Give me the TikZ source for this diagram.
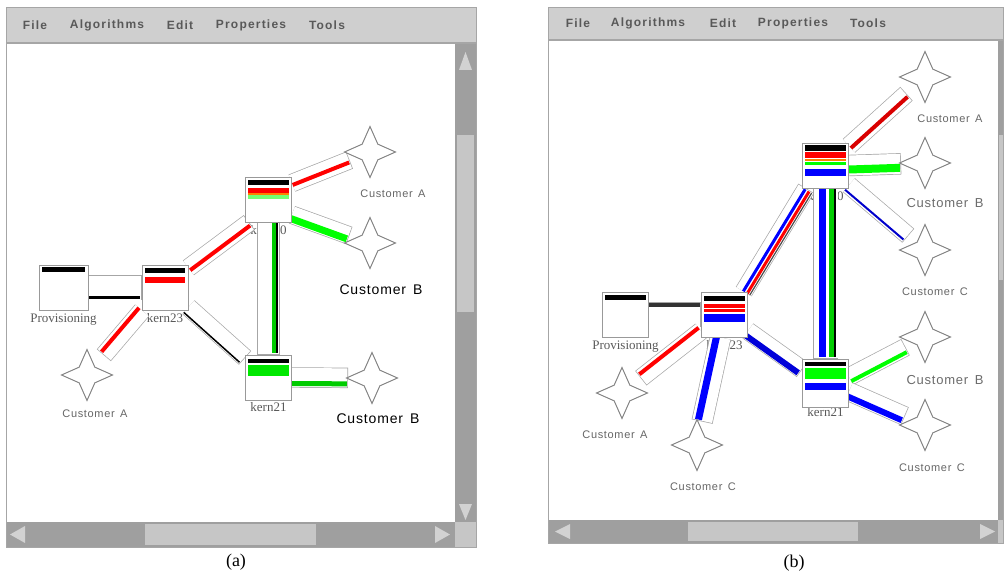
\documentclass[tikz,border=0pt]{standalone}
\usepackage{fontspec}
\setmainfont{Liberation Serif}
\setsansfont{Liberation Sans}
\newfontfamily\menufont[LetterSpace=10]{Liberation Sans}
\newfontfamily\custfont[LetterSpace=6]{Liberation Sans}
\usetikzlibrary{calc, positioning, shapes.geometric}

\pgfdeclarelayer{bg}
\pgfdeclarelayer{links}
\pgfsetlayers{bg,links,main}

% link box, coloured lane in a link, bar in a router
\newcommand{\band}[3]{\draw[line width=#3pt+1.4pt, gray!70] (#1) -- (#2);
  \draw[line width=#3pt, white, shorten >=0.7pt] (#1) -- (#2);}
\newcommand{\lane}[5]{\draw[line width=#4pt, #5, shorten >=1.2pt] ($(#1)!#3pt!90:(#2)$) -- ($(#2)!#3pt!-90:(#1)$);}
\newcommand{\rbar}[4]{\fill[#4] ([shift={(3,#2)}]#1.north west) rectangle ([shift={(-3,#2+#3)}]#1.north east);}

\begin{document}
\begin{tikzpicture}[x=1pt, y=-1pt,
  router/.style={draw=gray!80, fill=white, line width=0.9pt, minimum width=46pt, minimum height=45pt, inner sep=0pt},
  cust/.style={star, star points=4, star point ratio=2.3, minimum size=51pt, inner sep=0pt, draw=gray!95, fill=white, line width=1pt},
  rname/.style={font=\fontsize{13}{14}\selectfont, text=gray!70!black, inner sep=0pt},
  clabel/.style={font=\custfont\fontsize{11}{12}\selectfont, text=gray!80!black, inner sep=1pt},
  cmid/.style={font=\custfont\fontsize{13}{14}\selectfont, text=gray!85!black, inner sep=1pt},
  cbig/.style={font=\custfont\fontsize{14}{16}\selectfont, inner sep=1pt},
  menu/.style={font=\menufont\bfseries\fontsize{12}{14}\selectfont, text=black!65, inner sep=0pt},
  track/.style={fill=gray!75},
  thumb/.style={fill=gray!45},
  btn/.style={fill=gray!35}]
\useasboundingbox (0,0) rectangle (1005,578);

% nodes (a)
\node[router, minimum width=49pt] (pa) at (63.5,287.5) {};
\node[router] (k23a) at (165,287.5) {};
\node[router] (k20a) at (268.5,199.5) {};
\node[router] (k21a) at (268.5,377.5) {};
\node[cust] (sa1) at (370,152) {};
\node[cust] (sb1) at (370,243) {};
\node[cust] (sb2) at (372,378) {};
\node[cust] (sa2) at (87,375) {};

\rbar{pa}{2}{5}{black}
\rbar{k23a}{3}{5}{black}
\rbar{k23a}{12}{6}{red}
\rbar{k20a}{3}{5}{black}
\rbar{k20a}{11}{5}{red}
\rbar{k20a}{16}{2}{orange}
\rbar{k20a}{18}{4}{green!55}
\rbar{k21a}{4}{4}{black}
\rbar{k21a}{10}{11}{green!85!black!60!green}

% nodes (b)
\node[router] (pb) at (625.5,314.5) {};
\node[router] (k23b) at (724.5,314.5) {};
\node[router] (k20b) at (825.5,165.5) {};
\node[router, minimum height=48pt] (k21b) at (825.5,383) {};
\node[cust] (sa3) at (925,77) {};
\node[cust] (sb3) at (925,163) {};
\node[cust] (sc3) at (925,250) {};
\node[cust] (sb4) at (925,337) {};
\node[cust] (sc4) at (925,425) {};
\node[cust] (sa4) at (622,393) {};
\node[cust] (sc5) at (697,445) {};

\rbar{pb}{3}{5}{black}
\rbar{k23b}{4}{5}{black}
\rbar{k23b}{12}{4}{red}
\rbar{k23b}{17}{3}{red}
\rbar{k23b}{22}{8}{blue}
\rbar{k20b}{2}{6}{black}
\rbar{k20b}{9}{6}{red}
\rbar{k20b}{16}{2}{orange}
\rbar{k20b}{19}{3}{green}
\rbar{k20b}{26}{7}{blue}
\rbar{k21b}{3}{4}{black}
\rbar{k21b}{9}{11}{green}
\rbar{k21b}{24}{7}{blue}

% free ends of the links at the customers
\coordinate (ea1) at ($(sa1)!22pt!(k20a.35)$);
\coordinate (eb1) at ($(sb1)!22pt!(k20a.-33)$);
\coordinate (eb2) at ($(sb2)!24pt!(k21a.east)$);
\coordinate (ea2) at ($(sa2)!26pt!(k23a.225)$);
\coordinate (ea3) at ($(sa3)!25pt!(k20b.40)$);
\coordinate (eb3) at ($(sb3)!24pt!(k20b.east)$);
\coordinate (ec3) at ($(sc3)!22pt!(k20b.-40)$);
\coordinate (ea4) at ($(sa4)!24pt!(k23b.215)$);
\coordinate (ec5) at ($(sc5)!24pt!(k23b.-100)$);
\coordinate (eb4) at ($(sb4)!22pt!(k21b.15)$);
\coordinate (ec4) at ($(sc4)!22pt!(k21b.-20)$);

% labels
\node[clabel] (la1) at (393,194) {Customer\enspace A};
\node[cbig] (lb1) at (381,290) {Customer\enspace B};
\node[clabel] (la2) at (95,414) {Customer\enspace A};
\node[cbig] (lb2) at (378,419) {Customer\enspace B};
\node[clabel] (la3) at (950,119) {Customer\enspace A};
\node[cmid] (lb3) at (945,203) {Customer\enspace B};
\node[clabel] (lc3) at (935,292) {Customer\enspace C};
\node[cmid] (lb4) at (945,380) {Customer\enspace B};
\node[clabel] (lc4) at (932,468) {Customer\enspace C};
\node[clabel] (la4) at (615,435) {Customer\enspace A};
\node[clabel] (lc5) at (703,487) {Customer\enspace C};
\node[font=\fontsize{18}{20}\selectfont] (capa) at (236,562) {(a)};
\node[font=\fontsize{18}{20}\selectfont] (capb) at (794,563) {(b)};

% windows
\begin{pgfonlayer}{bg}
\fill[white] (6,44) rectangle (455,522);
\fill[gray!38] (6,7) rectangle (476,44);
\draw[gray!70, line width=1.5pt] (6,43) -- (476,43);
\fill[track] (455,44) rectangle (476,522);
\fill[thumb] (457,135) rectangle (474,312);
\fill[btn] (459,70) -- (465.5,52) -- (472,70) -- cycle;
\fill[btn] (459,504) -- (472,504) -- (465.5,520) -- cycle;
\fill[track] (6,522) rectangle (455,547);
\fill[thumb] (145,524) rectangle (316,545);
\fill[btn] (25,526) -- (10,534.5) -- (25,543) -- cycle;
\fill[btn] (435,526) -- (450,534.5) -- (435,543) -- cycle;
\fill[thumb] (455,522) rectangle (476,547);
\draw[gray!70] (6,7) rectangle (476,547);
\foreach \x/\t in {35/File, 107/Algorithms, 180/Edit, 251/Properties, 327/Tools}
  \node[menu] (ma-\t) at (\x,25) {\t};

\fill[white] (548,41) rectangle (998,520);
\fill[gray!38] (548,7) rectangle (1003,41);
\draw[gray!70, line width=1.5pt] (548,40) -- (1003,40);
\fill[track] (998,41) rectangle (1003,520);
\fill[thumb] (999,135) rectangle (1003,280);
\fill[track] (548,520) rectangle (998,543);
\fill[thumb] (688,522) rectangle (858,541);
\fill[btn] (570,524) -- (555,531.5) -- (570,539) -- cycle;
\fill[btn] (980,524) -- (995,531.5) -- (980,539) -- cycle;
\fill[thumb] (998,520) rectangle (1003,543);
\draw[gray!70] (548,7) rectangle (1003,543);
\foreach \x/\t in {578/File, 648/Algorithms, 723/Edit, 793/Properties, 868/Tools}
  \node[menu] (mb-\t) at (\x,23) {\t};

\node[rname, below=3pt of pa] (pa-name) {Provisioning};
\node[rname, below=3pt of k23a] (k23a-name) {kern23};
\node[rname, below=3pt of k20a] (k20a-name) {kern20};
\node[rname, below=2pt of k21a] (k21a-name) {kern21};
\node[rname, below=3pt of pb] (pb-name) {Provisioning};
\node[rname, below=3pt of k23b] (k23b-name) {kern23};
\node[rname, below=3pt of k20b] (k20b-name) {kern20};
\node[rname, below=0pt of k21b] (k21b-name) {kern21};
\end{pgfonlayer}

% links
\begin{pgfonlayer}{links}
\band{pa.east}{k23a.west}{24}
\lane{pa.east}{k23a.west}{-10}{3}{black}
\band{k23a.40}{k20a.230}{17}
\lane{k23a.40}{k20a.230}{-3}{4}{red}
\band{k20a.35}{ea1}{17}
\lane{k20a.35}{ea1}{-2}{4}{red}
\band{k20a.-33}{eb1}{17}
\lane{k20a.-33}{eb1}{-4}{7}{green}
\band{k20a.south}{k21a.north}{21}
\lane{k20a.south}{k21a.north}{5}{4}{green!80!black}
\lane{k20a.south}{k21a.north}{8.5}{1.5}{black}
\band{k23a.-40}{k21a.140}{17}
\lane{k23a.-40}{k21a.140}{-7}{1.5}{black}
\band{k21a.east}{eb2}{19}
\lane{k21a.east}{eb2}{-6}{5}{green!80!black}
\band{k23a.225}{ea2}{17}
\lane{k23a.225}{ea2}{-4}{4}{red}

\band{pb.east}{k23b.west}{24}
\lane{pb.east}{k23b.west}{10}{4}{black!80}
\band{k23b.50}{k20b.230}{17}
\lane{k23b.50}{k20b.230}{0.5}{3}{blue}
\lane{k23b.50}{k20b.230}{-4}{3}{red}
\lane{k23b.50}{k20b.230}{-7}{1.2}{black!70}
\band{k20b.south}{k21b.north}{24}
\lane{k20b.south}{k21b.north}{-3}{7}{blue}
\lane{k20b.south}{k21b.north}{5.5}{5}{green!80!black}
\lane{k20b.south}{k21b.north}{9}{2}{black}
\band{k20b.40}{ea3}{17}
\lane{k20b.40}{ea3}{-3}{4}{red!85!black}
\band{k20b.east}{eb3}{20}
\lane{k20b.east}{eb3}{-4}{8}{green}
\band{k20b.-40}{ec3}{17}
\lane{k20b.-40}{ec3}{-6}{2}{blue!80!black}
\band{k23b.215}{ea4}{17}
\lane{k23b.215}{ea4}{-4}{4}{red}
\band{k23b.-100}{ec5}{20}
\lane{k23b.-100}{ec5}{-4}{7}{blue}
\band{k23b.-35}{k21b.150}{17}
\lane{k23b.-35}{k21b.150}{-5}{6}{blue!85!black}
\band{k21b.15}{eb4}{17}
\lane{k21b.15}{eb4}{-5}{4}{green}
\band{k21b.-20}{ec4}{18}
\lane{k21b.-20}{ec4}{-5}{6}{blue}
\end{pgfonlayer}
\end{tikzpicture}
\end{document}
